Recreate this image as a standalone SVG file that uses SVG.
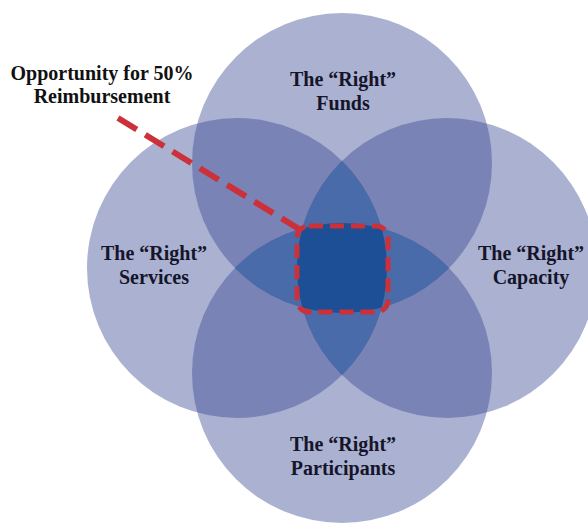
<svg xmlns="http://www.w3.org/2000/svg" width="588" height="525" viewBox="0 0 588 525">
  <style>
    .circ { fill: #364490; fill-opacity: 0.417; }
    .lbl { font-family: "Liberation Serif", "Times New Roman", serif; font-weight: bold; font-size: 20px; fill: #15152a; text-anchor: middle; }
    .call { font-family: "Liberation Serif", "Times New Roman", serif; font-weight: bold; font-size: 20px; fill: #111111; text-anchor: middle; }
    .red { fill: none; stroke: #cc3139; stroke-linecap: butt; }
  </style>
  <defs>
    <clipPath id="cT"><circle cx="342" cy="163" r="150"/></clipPath>
    <clipPath id="cB"><circle cx="342" cy="373" r="150"/></clipPath>
    <clipPath id="cL"><circle cx="237" cy="268" r="150"/></clipPath>
    <clipPath id="cR"><circle cx="447" cy="268" r="150"/></clipPath>
  </defs>
  <rect width="588" height="525" fill="#ffffff"/>

  <g id="node-funds">
    <circle class="circ" cx="342" cy="163" r="150"/>
    <text class="lbl" x="343" y="86">The “Right”</text>
    <text class="lbl" x="343" y="110">Funds</text>
  </g>
  <g id="node-services">
    <circle class="circ" cx="237" cy="268" r="150"/>
    <text class="lbl" x="154" y="260">The “Right”</text>
    <text class="lbl" x="154" y="284">Services</text>
  </g>
  <g id="node-capacity">
    <circle class="circ" cx="447" cy="268" r="150"/>
    <text class="lbl" x="531" y="260">The “Right”</text>
    <text class="lbl" x="531" y="284">Capacity</text>
  </g>
  <g id="node-participants">
    <circle class="circ" cx="342" cy="373" r="150"/>
    <text class="lbl" x="343" y="451">The “Right”</text>
    <text class="lbl" x="343" y="475">Participants</text>
  </g>

  <g id="overlaps">
    <g clip-path="url(#cL)"><rect clip-path="url(#cR)" x="0" y="0" width="588" height="525" fill="#4a6ba9"/></g>
    <g clip-path="url(#cT)"><rect clip-path="url(#cB)" x="0" y="0" width="588" height="525" fill="#4a6ba9"/></g>
    <g clip-path="url(#cL)"><g clip-path="url(#cR)"><g clip-path="url(#cT)"><rect clip-path="url(#cB)" x="0" y="0" width="588" height="525" fill="#1c4f95"/></g></g></g>
  </g>

  <g id="node-callout">
    <text class="call" x="102" y="80">Opportunity for 50%</text>
    <text class="call" x="102" y="103">Reimbursement</text>
  </g>

  <g id="node-highlight">
    <rect class="red" x="297" y="226" width="91" height="86" rx="12" stroke-width="5" stroke-dasharray="14 7"/>
  </g>

  <g id="connectors">
    <line class="red" x1="118" y1="118" x2="299" y2="229" stroke-width="6" stroke-dasharray="22 10"/>
  </g>
</svg>
